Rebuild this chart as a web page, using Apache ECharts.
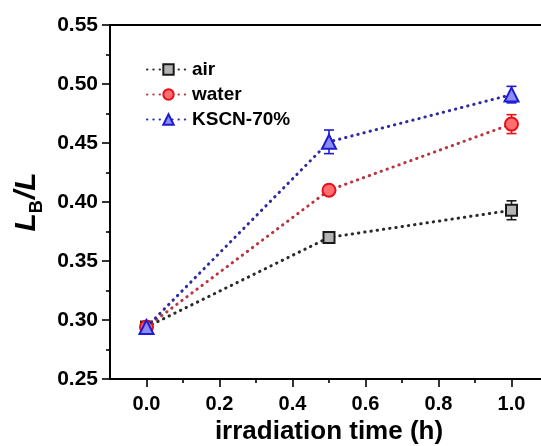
<!DOCTYPE html>
<html>
<head>
<meta charset="utf-8">
<script src="https://cdn.jsdelivr.net/npm/echarts@6/dist/echarts.min.js"></script>
<style>
  html, body { margin: 0; padding: 0; background: #fff; }
  #chart { width: 541px; height: 446px; }
</style>
</head>
<body>
<div id="chart"></div>
<script>
// Irradiation time (h)
const times = [0, 0.5, 1.0];

// L_B / L for each environment, with error bar half-widths
const airValues   = [0.294, 0.370, 0.393];
const airErrors   = [0.004, 0.003, 0.008];
const waterValues = [0.294, 0.410, 0.466];
const waterErrors = [0.003, 0.004, 0.008];
const kscnValues  = [0.294, 0.451, 0.491];
const kscnErrors  = [0.004, 0.010, 0.007];

const seriesNames = ['air', 'water', 'KSCN-70%'];

const xMajorTicks = [0, 0.2, 0.4, 0.6, 0.8, 1.0];
const xMinorTicks = [0.1, 0.3, 0.5, 0.7, 0.9];

const FONT = '"Liberation Sans", Arial, sans-serif';

const styles = [
  { line: '#2a2a2a', fill: '#b4b4b4', border: '#1a1a1a', symbol: 'rect',     size: 11 },
  { line: '#b8373f', fill: '#ff6f6f', border: '#e8101a', symbol: 'circle',   size: 13 },
  { line: '#2c2ca0', fill: '#8c8cf5', border: '#1c1cd0', symbol: 'triangle', size: 14 }
];

const valueSets = [airValues, waterValues, kscnValues];
const errorSets = [airErrors, waterErrors, kscnErrors];

function pairs(vals) { return times.map((t, i) => [t, vals[i]]); }

function errorSeries(k) {
  const st = styles[k];
  return {
    type: 'custom',
    name: seriesNames[k] + ' error',
    data: times.map((t, i) => [t, valueSets[k][i] - errorSets[k][i], valueSets[k][i] + errorSets[k][i]]),
    z: 3 + k,
    silent: true,
    renderItem: function (params, api) {
      const lo = api.coord([api.value(0), api.value(1)]);
      const hi = api.coord([api.value(0), api.value(2)]);
      const cap = 5;
      const ls = { stroke: st.border, lineWidth: 1.6 };
      return {
        type: 'group',
        children: [
          { type: 'line', shape: { x1: lo[0], y1: lo[1], x2: hi[0], y2: hi[1] }, style: ls },
          { type: 'line', shape: { x1: lo[0] - cap, y1: lo[1], x2: lo[0] + cap, y2: lo[1] }, style: ls },
          { type: 'line', shape: { x1: hi[0] - cap, y1: hi[1], x2: hi[0] + cap, y2: hi[1] }, style: ls }
        ]
      };
    }
  };
}

function lineSeries(k) {
  const st = styles[k];
  return {
    type: 'line',
    name: seriesNames[k],
    data: pairs(valueSets[k]),
    symbol: st.symbol,
    symbolSize: st.size,
    z: 10 + k,
    lineStyle: { color: st.line, width: 3, type: [0.4, 5.9], cap: 'round' },
    itemStyle: { color: st.fill, borderColor: st.border, borderWidth: 2, opacity: 1 },
    emphasis: { disabled: true },
    animation: false
  };
}

const chart = echarts.init(document.getElementById('chart'), null, { renderer: 'canvas' });

chart.setOption({
  animation: false,
  backgroundColor: '#fff',
  grid: {
    left: 110, top: 25, width: 438, bottom: 67,
    outerBoundsMode: 'none',
    show: true, borderColor: '#000', borderWidth: 1.8, containLabel: false
  },
  legend: {
    orient: 'vertical',
    left: 141, top: 55,
    itemWidth: 43, itemHeight: 13, itemGap: 6,
    data: seriesNames,
    textStyle: { fontFamily: FONT, fontWeight: 'bold', fontSize: 19, color: '#000', padding: [0, 0, 0, -3] },
    selectedMode: false
  },
  xAxis: [
    {
      type: 'value', min: -0.1, max: 1.1, position: 'bottom',
      splitLine: { show: false },
      axisLine: { show: true, onZero: false, lineStyle: { color: '#000', width: 1.8 } },
      axisTick: { show: true, inside: false, length: 8, lineStyle: { color: '#000', width: 1.6 }, customValues: xMajorTicks },
      axisLabel: {
        customValues: xMajorTicks, margin: 15,
        formatter: v => v.toFixed(1),
        fontFamily: FONT, fontWeight: 'bold', fontSize: 20, color: '#000'
      },
      name: 'irradiation time (h)',
      nameLocation: 'middle', nameGap: 36,
      nameTextStyle: { fontFamily: FONT, fontWeight: 'bold', fontSize: 26, color: '#000' }
    },
    {
      type: 'value', min: -0.1, max: 1.1, position: 'bottom',
      splitLine: { show: false },
      axisLine: { show: false, onZero: false },
      axisTick: { show: true, inside: false, length: 4, lineStyle: { color: '#000', width: 1.6 }, customValues: xMinorTicks },
      axisLabel: { show: false }
    }
  ],
  yAxis: {
    type: 'value', min: 0.25, max: 0.55, interval: 0.05,
    splitLine: { show: false },
    axisLine: { show: true, onZero: false, lineStyle: { color: '#000', width: 1.8 } },
    axisTick: { show: true, inside: false, length: 8, lineStyle: { color: '#000', width: 1.6 } },
    minorTick: { show: true, splitNumber: 2, length: 4, lineStyle: { color: '#000', width: 1.6 } },
    minorSplitLine: { show: false },
    axisLabel: {
      margin: 12,
      formatter: v => v.toFixed(2),
      fontFamily: FONT, fontWeight: 'bold', fontSize: 21, color: '#000'
    },
    name: '{a|L}{b|B}{a|/L}',
    nameLocation: 'middle', nameGap: 65, nameRotate: 90,
    nameTextStyle: {
      rich: {
        a: { fontFamily: FONT, fontWeight: 'bold', fontStyle: 'italic', fontSize: 30, color: '#000', verticalAlign: 'bottom' },
        b: { fontFamily: FONT, fontWeight: 'bold', fontSize: 18, color: '#000', verticalAlign: 'bottom', padding: [0, 1, -4, 0] }
      }
    }
  },
  series: [
    errorSeries(0), errorSeries(1), errorSeries(2),
    lineSeries(0), lineSeries(1), lineSeries(2)
  ]
});
</script>
</body>
</html>
